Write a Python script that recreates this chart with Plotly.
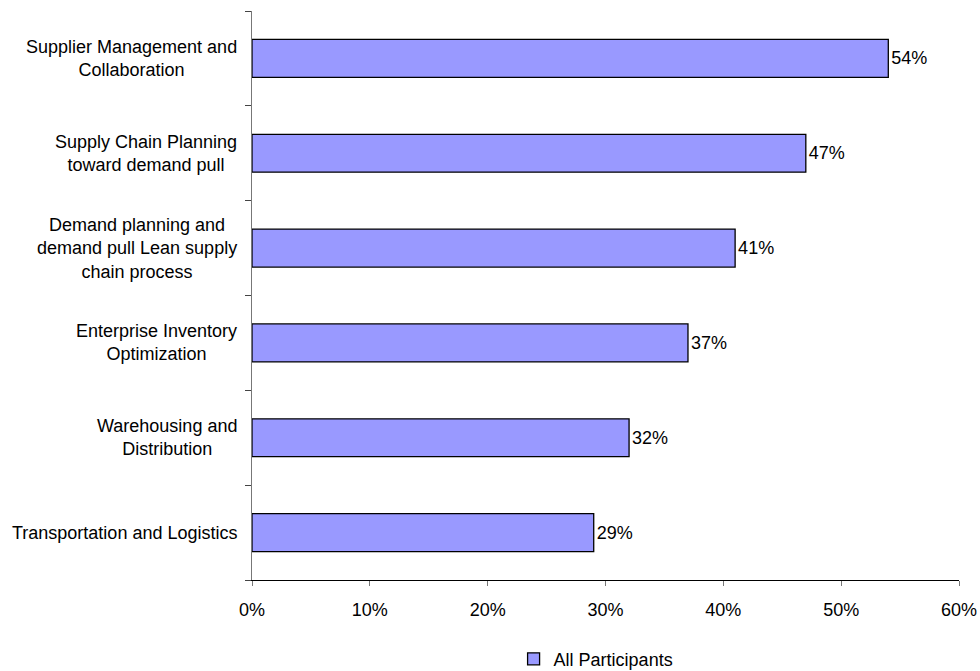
import plotly.graph_objects as go

categories = [
    "Supplier Management and<br>Collaboration",
    "Supply Chain Planning<br>toward demand pull",
    "Demand planning and<br>demand pull Lean supply<br>chain process",
    "Enterprise Inventory<br>Optimization",
    "Warehousing and<br>Distribution",
    "Transportation and Logistics",
]
values = [0.54, 0.47, 0.41, 0.37, 0.32, 0.29]
value_labels = ["54%", "47%", "41%", "37%", "32%", "29%"]
series_name = "All Participants"

FONT = "Liberation Sans, Arial, sans-serif"
FS = 18

fig = go.Figure()
fig.add_trace(go.Bar(
    y=categories,
    x=values,
    orientation="h",
    name=series_name,
    marker=dict(color="#9999FF", line=dict(color="black", width=1.3)),
    text=value_labels,
    textposition="outside",
    textfont=dict(family=FONT, size=FS, color="black"),
    cliponaxis=False,
    showlegend=True,
))

for c in categories:
    fig.add_annotation(
        x=0, xref="paper", y=c, yref="y",
        text=c, showarrow=False, xanchor="right", yanchor="middle",
        align="center", xshift=-13,
        font=dict(family=FONT, size=FS, color="black"),
    )

fig.update_layout(
    width=980, height=671,
    margin=dict(l=252, r=21, t=11, b=91, autoexpand=False),
    paper_bgcolor="white", plot_bgcolor="white",
    font=dict(family=FONT, size=FS, color="black"),
    bargap=0.6,
    showlegend=True,
    legend=dict(
        orientation="h", x=0.37, xanchor="left", y=-0.139, yanchor="middle",
        font=dict(family=FONT, size=FS, color="black"),
        bgcolor="rgba(0,0,0,0)", itemwidth=30,
    ),
    xaxis=dict(
        range=[0, 0.6], dtick=0.1, tickformat=".0%",
        showgrid=False, zeroline=False, automargin=False,
        showline=True, linecolor="black", linewidth=1.3,
        ticks="outside", ticklen=5, tickcolor="#777777",
        ticklabelstandoff=8,
        tickfont=dict(family=FONT, size=FS, color="black"),
    ),
    yaxis=dict(
        categoryorder="array", categoryarray=categories[::-1],
        showgrid=False, zeroline=False, automargin=False,
        showline=True, linecolor="#777777", linewidth=1.3,
        ticks="outside", ticklen=6, tickcolor="#444444", tickson="boundaries",
        showticklabels=False,
    ),
)

fig.write_html("out.html")
